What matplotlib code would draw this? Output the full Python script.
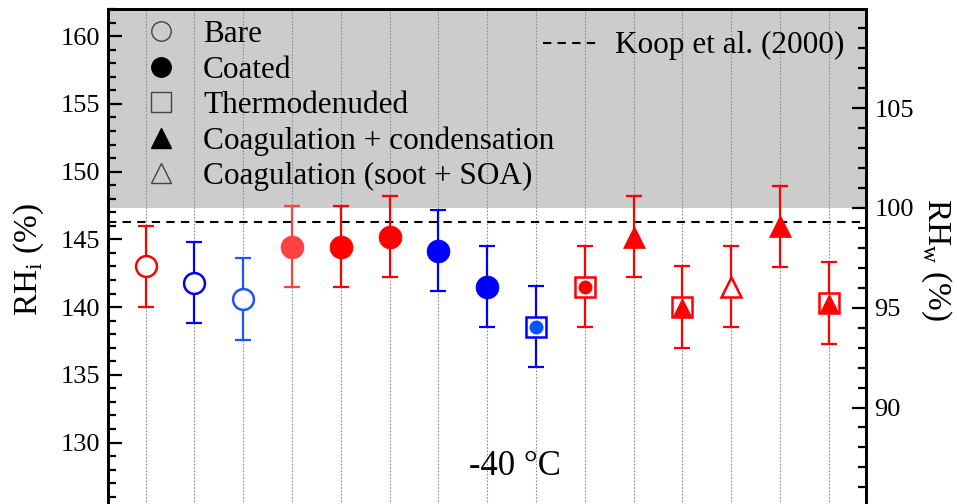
import numpy as np
import matplotlib
matplotlib.use("Agg")
import matplotlib.pyplot as plt
from matplotlib.lines import Line2D

plt.rcParams['font.family'] = ['Liberation Serif', 'DejaVu Serif']
plt.rcParams['mathtext.fontset'] = 'custom'
plt.rcParams['mathtext.rm'] = 'Liberation Serif'

# data (RH_i in %)
sample = np.arange(1, 16)
rhi = [143.0, 141.8, 140.6, 144.45, 144.45, 145.2, 144.15, 141.5,
       138.55, 141.5, 145.2, 140.0, 141.5, 145.95, 140.3]
rhi_err = [3.0, 3.0, 3.0, 3.0, 3.0, 3.0, 3.0, 3.0,
           3.0, 3.0, 3.0, 3.0, 3.0, 3.0, 3.0]
koop = 146.3
ice_to_water = 0.6788   # RHw / RHi at -40 C

legend_labels = ['Bare', 'Coated', 'Thermodenuded',
                 'Coagulation + condensation', 'Coagulation (soot + SOA)']

# marker style per point: (marker, filled, colour, box around)
styles = [
    ('o', False, '#ff0000', False),
    ('o', False, '#0000ff', False),
    ('o', False, '#1a55ff', False),
    ('o', True, '#ff4040', False),
    ('o', True, '#ff0000', False),
    ('o', True, '#ff0000', False),
    ('o', True, '#0000ff', False),
    ('o', True, '#0000ff', False),
    ('o', True, '#0055ff', True),
    ('o', True, '#ff0000', True),
    ('^', True, '#ff0000', False),
    ('^', True, '#ff0000', True),
    ('^', False, '#ff0000', False),
    ('^', True, '#ff0000', False),
    ('^', True, '#ff0000', True),
]

fig = plt.figure(figsize=(9.57, 5.04), dpi=100)
ax = fig.add_axes([0.1129, -0.0125, 0.792, 0.9946])

ylo, yhi = 125, 162
ax.set_xlim(0.23, 15.76)
ax.set_ylim(ylo, yhi)

ax.axhspan(100 / ice_to_water, yhi, color='#cccccc', zorder=0, lw=0)
for xv in sample:
    ax.axvline(xv, color='#8c8c8c', ls=(0, (1.5, 1.5)), lw=0.8, zorder=1)
ax.axhline(koop, color='black', ls=(0, (4, 3)), lw=1.5, zorder=2)

for i, (m, filled, c, box) in enumerate(styles):
    edge = '#0000ff' if (box and c.startswith('#00')) else c
    ax.errorbar(sample[i], rhi[i], yerr=rhi_err[i], fmt='none', ecolor=edge,
                elinewidth=1.6, capsize=5.5, capthick=1.6, zorder=3)
    if box:
        ax.plot(sample[i], rhi[i], marker='s', ms=15, mfc='white', mec=edge,
                mew=1.8, ls='none', zorder=4)
        ms_in = 9.5 if m == 'o' else 13
        ax.plot(sample[i], rhi[i], marker=m, ms=ms_in, mfc=c, mec=c,
                mew=0.5, ls='none', zorder=5)
    elif filled:
        ax.plot(sample[i], rhi[i], marker=m, ms=16.5, mfc=c, mec=c,
                mew=0.5, ls='none', zorder=4)
    else:
        ax.plot(sample[i], rhi[i], marker=m, ms=15, mfc='white', mec=c,
                mew=1.8, ls='none', zorder=4)

ax.text(8.57, 128.2, '-40 °C', fontsize=25, ha='center', va='center')

handles = [
    Line2D([], [], marker='o', ls='none', ms=14, mfc='none', mec='#444444', mew=1.0),
    Line2D([], [], marker='o', ls='none', ms=14, mfc='black', mec='black'),
    Line2D([], [], marker='s', ls='none', ms=14, mfc='none', mec='#444444', mew=1.0),
    Line2D([], [], marker='^', ls='none', ms=15, mfc='black', mec='black'),
    Line2D([], [], marker='^', ls='none', ms=15, mfc='none', mec='#444444', mew=1.0),
]
leg1 = ax.legend(handles, legend_labels, loc='upper left', frameon=False,
                 fontsize=22.5, bbox_to_anchor=(0.016, 1.021), borderaxespad=0.3,
                 handlelength=1.2, handletextpad=0.75, labelspacing=0.2)
ax.add_artist(leg1)
koop_handle = Line2D([], [], color='black', ls=(0, (4, 3)), lw=1.5)
ax.legend([koop_handle], ['Koop et al. (2000)'], loc='upper right', frameon=False,
          fontsize=22.5, bbox_to_anchor=(1.0, 0.999), borderaxespad=0.3,
          handlelength=1.85, handletextpad=0.45)

ax.set_yticks(np.arange(130, 161, 5))
ax.set_yticks(np.arange(125, 163, 1), minor=True)
ax.set_xticks([])
ax.tick_params(axis='y', which='major', direction='in', length=10, width=1.6,
               labelsize=19, pad=6)
ax.tick_params(axis='y', which='minor', direction='in', length=6, width=1.6)
ax.set_ylabel('RH$_\\mathrm{i}$ (%)', fontsize=24, va='center')
ax.yaxis.set_label_coords(-0.104, 0.5)
for s in ax.spines.values():
    s.set_linewidth(2.0)

ax2 = ax.twinx()
ax2.set_ylim(ylo * ice_to_water, yhi * ice_to_water)
ax2.set_yticks(np.arange(90, 110, 5))
ax2.set_yticks(np.arange(85, 110, 1), minor=True)
ax2.tick_params(axis='y', which='major', direction='in', length=10, width=1.6,
                labelsize=19, pad=6)
ax2.tick_params(axis='y', which='minor', direction='in', length=6, width=1.6)
ax2.set_ylabel('RH$_\\mathrm{w}$ (%)', fontsize=24, rotation=270, va='center')
ax2.yaxis.set_label_coords(1.093, 0.5)
for s in ax2.spines.values():
    s.set_linewidth(2.0)

fig.savefig('out.png', dpi=100)
